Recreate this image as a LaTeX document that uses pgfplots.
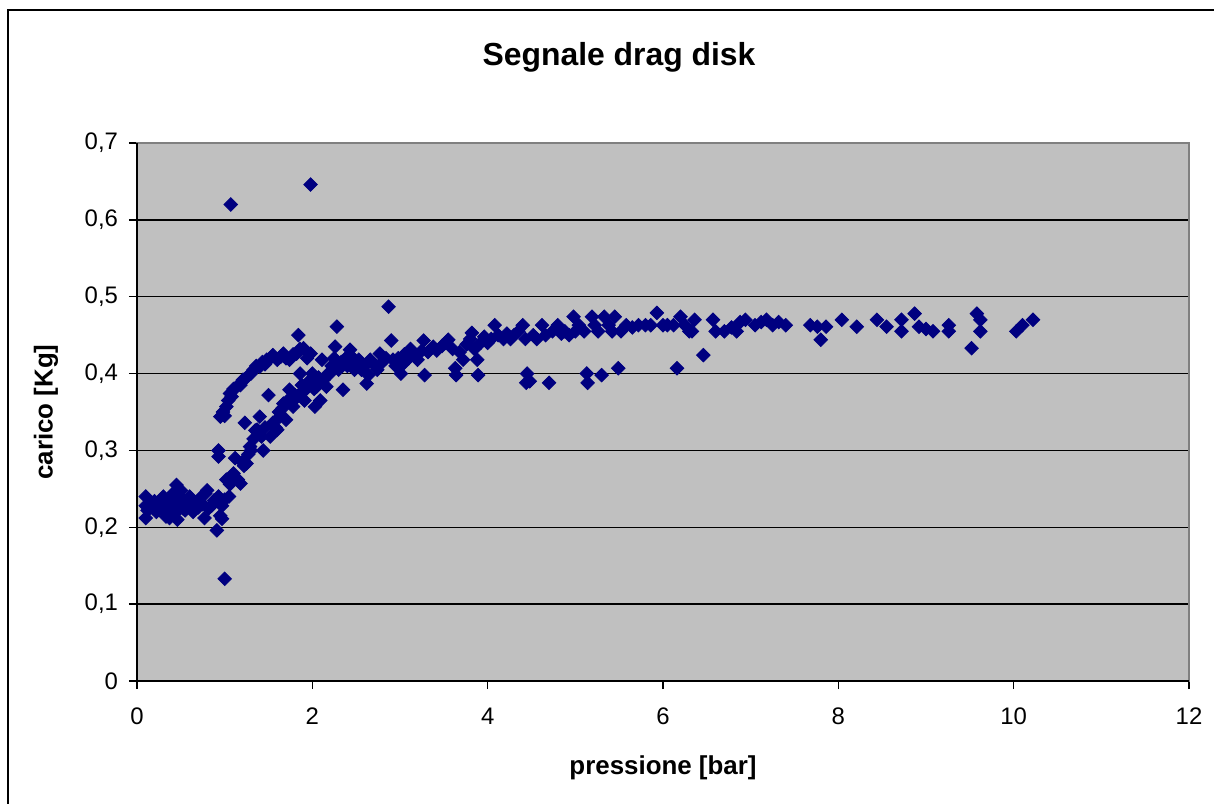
\documentclass[border=0pt]{standalone}
\usepackage{fontspec}
\setmainfont{Liberation Sans}
\usepackage{pgfplots}
\usepackage{pgfplotstable}
\pgfplotsset{compat=1.18}
\definecolor{navy}{RGB}{0,0,128}
\definecolor{plotbg}{RGB}{192,192,192}
\definecolor{bordergray}{RGB}{128,128,128}
\pgfplotstableread{
x y
0.10 0.240
0.10 0.228
0.10 0.212
0.12 0.222
0.15 0.232
0.18 0.225
0.20 0.234
0.22 0.220
0.25 0.228
0.28 0.236
0.30 0.240
0.30 0.222
0.33 0.214
0.35 0.230
0.37 0.212
0.38 0.238
0.40 0.226
0.42 0.245
0.43 0.218
0.45 0.255
0.46 0.210
0.47 0.240
0.48 0.232
0.50 0.248
0.52 0.225
0.53 0.236
0.55 0.222
0.58 0.230
0.60 0.240
0.62 0.228
0.64 0.220
0.67 0.232
0.70 0.226
0.72 0.238
0.75 0.230
0.77 0.212
0.78 0.244
0.80 0.248
0.82 0.225
0.85 0.228
0.88 0.235
0.91 0.196
0.93 0.240
0.95 0.215
0.97 0.228
1.00 0.133
0.93 0.300
0.93 0.292
0.97 0.211
1.00 0.236
1.02 0.262
1.05 0.240
1.06 0.256
1.10 0.270
1.12 0.290
1.15 0.262
1.18 0.257
1.20 0.285
1.22 0.280
1.23 0.336
1.25 0.283
1.27 0.295
1.29 0.305
1.30 0.300
1.33 0.315
1.35 0.326
1.37 0.327
1.40 0.344
1.42 0.318
1.44 0.300
1.46 0.330
1.50 0.372
1.52 0.318
1.55 0.336
1.58 0.330
1.60 0.327
1.62 0.350
1.63 0.344
1.66 0.355
1.67 0.361
1.70 0.340
1.72 0.365
1.74 0.379
1.76 0.362
1.78 0.357
1.80 0.372
1.83 0.370
1.86 0.374
1.86 0.400
1.88 0.385
1.91 0.365
1.93 0.380
1.96 0.390
2.00 0.400
2.02 0.380
2.03 0.357
2.05 0.383
2.07 0.395
2.09 0.365
2.11 0.418
2.13 0.392
2.16 0.383
2.18 0.400
2.20 0.400
2.22 0.410
2.25 0.420
2.26 0.435
2.28 0.461
2.30 0.405
2.33 0.415
2.35 0.379
2.38 0.420
2.40 0.410
2.43 0.431
2.45 0.422
2.48 0.405
2.50 0.409
2.53 0.418
2.56 0.405
2.60 0.410
2.62 0.387
2.64 0.398
2.66 0.418
2.70 0.412
2.74 0.405
2.77 0.426
2.80 0.415
2.84 0.420
2.87 0.487
2.90 0.443
2.92 0.418
2.95 0.410
2.98 0.420
3.01 0.400
3.03 0.412
0.95 0.344
0.98 0.350
1.00 0.345
1.02 0.357
1.04 0.365
1.06 0.374
1.08 0.370
1.10 0.380
1.14 0.383
1.18 0.385
1.21 0.392
1.25 0.395
1.30 0.400
1.33 0.405
1.36 0.410
1.40 0.409
1.43 0.415
1.46 0.412
1.48 0.418
1.52 0.420
1.55 0.424
1.60 0.418
1.64 0.422
1.67 0.426
1.70 0.420
1.74 0.418
1.78 0.425
1.82 0.426
1.84 0.450
1.86 0.432
1.90 0.433
1.94 0.420
1.98 0.426
1.07 0.620
1.98 0.646
3.05 0.425
3.10 0.420
3.12 0.432
3.15 0.426
3.20 0.418
3.25 0.430
3.27 0.443
3.28 0.398
3.32 0.428
3.38 0.435
3.42 0.430
3.48 0.436
3.52 0.440
3.55 0.444
3.60 0.432
3.63 0.407
3.64 0.398
3.68 0.428
3.72 0.418
3.76 0.438
3.80 0.445
3.82 0.453
3.85 0.432
3.88 0.418
3.89 0.398
3.92 0.440
3.96 0.448
4.00 0.440
4.04 0.445
4.08 0.463
4.12 0.450
4.18 0.445
4.22 0.452
4.26 0.445
4.30 0.450
4.35 0.455
4.40 0.463
4.43 0.445
4.45 0.400
4.44 0.388
4.48 0.390
4.52 0.450
4.56 0.445
4.62 0.463
4.66 0.450
4.70 0.388
4.74 0.455
4.80 0.463
4.84 0.452
4.88 0.455
4.93 0.450
4.98 0.474
5.00 0.455
5.04 0.463
5.10 0.455
5.13 0.400
5.14 0.388
5.19 0.474
5.22 0.463
5.26 0.455
5.30 0.398
5.33 0.474
5.38 0.463
5.42 0.455
5.45 0.474
5.49 0.407
5.52 0.455
5.58 0.463
5.65 0.460
5.72 0.463
5.80 0.463
5.86 0.463
5.93 0.479
6.00 0.463
6.05 0.463
6.12 0.463
6.16 0.407
6.20 0.474
6.25 0.463
6.30 0.455
6.33 0.455
6.36 0.470
6.46 0.424
6.57 0.470
6.60 0.455
6.70 0.455
6.78 0.460
6.84 0.455
6.88 0.467
6.94 0.470
7.05 0.463
7.12 0.467
7.18 0.470
7.25 0.463
7.32 0.467
7.40 0.463
7.68 0.463
7.76 0.461
7.80 0.444
7.86 0.461
8.04 0.470
8.21 0.461
8.44 0.470
8.55 0.461
8.72 0.470
8.72 0.455
8.87 0.478
8.92 0.461
9.00 0.458
9.08 0.455
9.26 0.463
9.26 0.455
9.52 0.433
9.58 0.478
9.62 0.470
9.62 0.455
10.03 0.455
10.10 0.463
10.22 0.470
}\datatable
\begin{document}
\begin{tikzpicture}[x=1bp,y=1bp]
\useasboundingbox (-68.5,-61) rectangle (538.5,340.5);
\draw[line width=1bp] (-64.5,335.5) rectangle (560,-80);
\begin{axis}[
  at={(0,0)}, anchor=south west,
  scale only axis, width=526bp, height=269bp,
  xmin=0, xmax=12, ymin=0, ymax=0.7,
  xtick={0,2,4,6,8,10,12},
  ytick={0,0.1,0.2,0.3,0.4,0.5,0.6,0.7},
  axis background/.style={fill=plotbg},
  axis line style={draw=bordergray, line width=1bp},
  ymajorgrids, grid style={black, line width=0.7bp},
  tick align=outside, tick pos=left, major tick length=4bp,
  tick style={black, line width=0.7bp},
  ticklabel style={font=\fontsize{12}{14}\selectfont},
  xticklabel style={yshift=-6bp},
  yticklabel style={xshift=-2bp},
  /pgf/number format/use comma,
  /pgf/number format/fixed,
  /pgf/number format/precision=1,
  /pgf/number format/assume math mode=true,
  xlabel={pressione [bar]},
  ylabel={carico [Kg]},
  label style={font=\bfseries\fontsize{13}{15}\selectfont},
  xlabel style={at={(axis description cs:0.5,0)}, anchor=center, yshift=-43.5bp},
  ylabel style={at={(axis description cs:0,0.5)}, anchor=center, rotate=0, yshift=45.5bp},
  clip=false,
]
\addplot[only marks, mark=square*, mark size=2.4bp,
  mark options={rotate=45, fill=navy, draw=navy}] table[x=x,y=y] {\datatable};
\draw[black, line width=1bp] (rel axis cs:0,1) -- (rel axis cs:0,0) -- (rel axis cs:1,0);
\end{axis}
\node[font=\bfseries\fontsize{16}{19}\selectfont] at (241,312) {Segnale drag disk};
\end{tikzpicture}
\end{document}
